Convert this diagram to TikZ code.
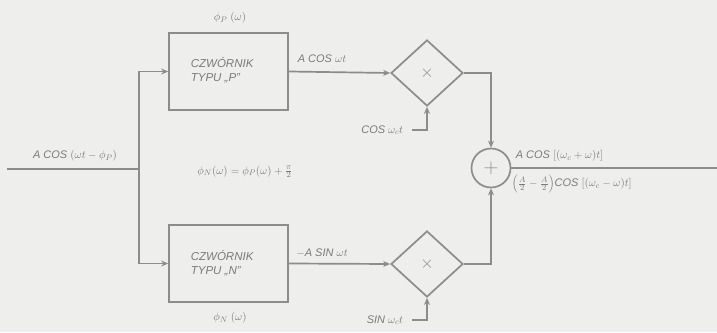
\documentclass[tikz,border=0pt]{standalone}
\usepackage{fontspec}
\setmainfont{Liberation Sans}
\usetikzlibrary{shapes.geometric,arrows.meta}
\definecolor{bg}{HTML}{EEEEEC}
\definecolor{ink}{HTML}{8C8C8C}
\definecolor{txt}{HTML}{7A7A7A}
\begin{document}
\begin{tikzpicture}[x=1pt,y=-1pt,
  line width=1.7pt, draw=ink, color=ink,
  sig/.style={-{Stealth[length=7pt,width=6pt]}},
  blk/.style={draw, rectangle, minimum width=119pt, minimum height=77pt, inner sep=0pt},
  mult/.style={draw, diamond, minimum width=72pt, minimum height=66pt, inner sep=0pt},
  summ/.style={draw, circle, minimum size=39pt, inner sep=0pt},
  lbl/.style={text=txt, font=\itshape\fontsize{11}{13}\selectfont, inner sep=1pt},
  blabel/.style={text=txt, font=\itshape\fontsize{11.5}{14}\selectfont, align=left, inner sep=0pt}]
\fill[bg] (0,0) rectangle (717,332);
\useasboundingbox (0,0) rectangle (717,332);
% nodes
\coordinate (in) at (7,169);
\coordinate (split) at (139,169);
\node[blk] (bp) at (228.5,71.5) {};
\node[blabel, anchor=west] at (190,70) {CZWÓRNIK\\TYPU „P”};
\node[blk] (bn) at (228.5,263.5) {};
\node[blabel, anchor=west] at (190,263) {CZWÓRNIK\\TYPU „N”};
\node[mult] (m1) at (427,73) {};
\node[text=ink, font=\fontsize{16}{16}\selectfont] at (m1) {$\times$};
\node[mult] (m2) at (427,264) {};
\node[text=ink, font=\fontsize{16}{16}\selectfont] at (m2) {$\times$};
\node[summ] (s) at (491,168) {};
\node[text=ink, font=\fontsize{22}{22}\selectfont] at (s) {$+$};
\coordinate (out) at (717,168);
\coordinate (c1) at (412,130);
\coordinate (c2) at (412,320);
% connectors
\draw (in) -- (split);
\draw[sig] (split) |- (bp.west);
\draw[sig] (split) |- (bn.west);
\draw[sig] (bp.east) -- (m1.west);
\draw[sig] (bn.east) -- (m2.west);
\draw[sig] (c1) -| (m1.south);
\draw[sig] (c2) -| (m2.south);
\draw[sig] (m1.east) -| (s.north);
\draw[sig] (m2.east) -| (s.south);
\draw (s.east) -- (out);
% labels
\node[lbl] (lin) at (75,156) {A COS $(\omega t-\phi_P)$};
\node[lbl] (lpp) at (230,18) {$\phi_P\ (\omega)$};
\node[lbl] (lpn) at (230,318) {$\phi_N\ (\omega)$};
\node[lbl] (lac) at (322,59) {A COS $\omega t$};
\node[lbl] (las) at (322,253) {$-$A SIN $\omega t$};
\node[lbl] (leq) at (245,172) {$\phi_N(\omega)=\phi_P(\omega)+\frac{\pi}{2}$};
\node[lbl, anchor=east] (lcos) at (405,130) {COS $\omega_c t$};
\node[lbl, anchor=east] (lsin) at (405,320) {SIN $\omega_c t$};
\node[lbl, anchor=west] (lo1) at (514,156) {A COS $[(\omega_c+\omega)t]$};
\node[lbl, anchor=west] (lo2) at (510,184) {$\left(\frac{A}{2}-\frac{A}{2}\right)$COS $[(\omega_c-\omega)t]$};
\end{tikzpicture}
\end{document}
